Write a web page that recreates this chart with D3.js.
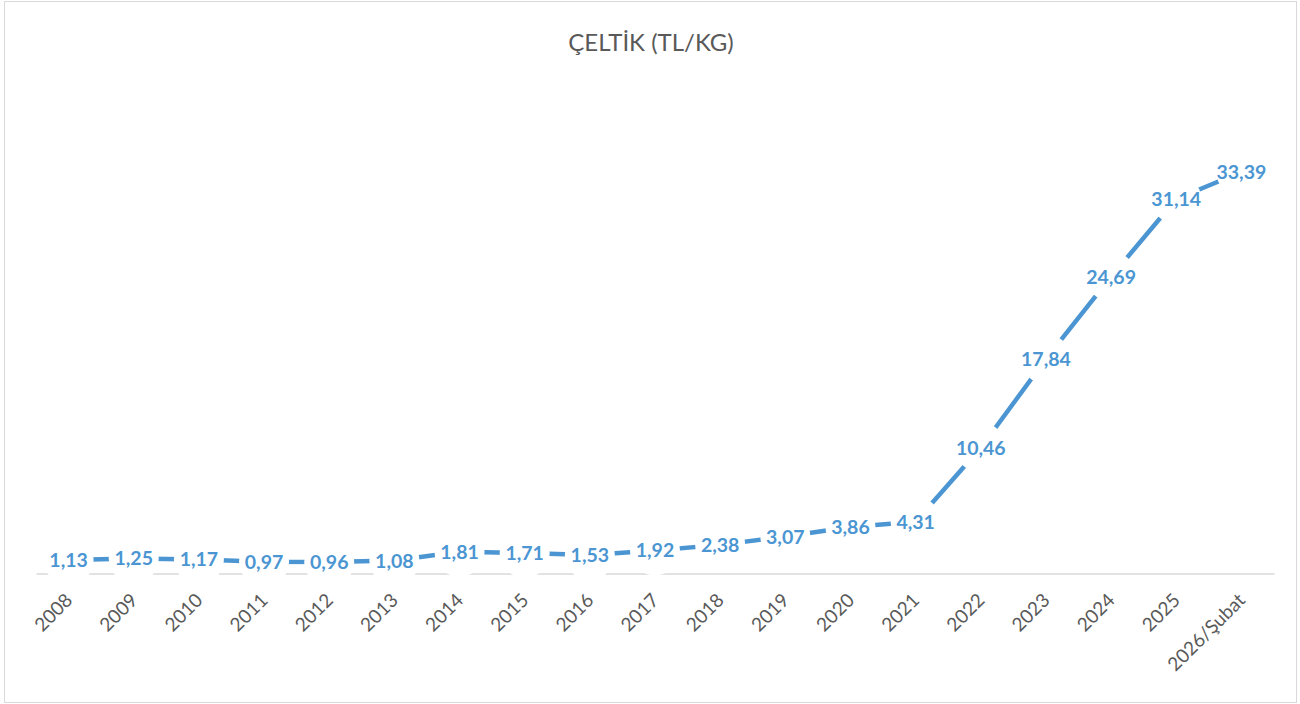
<!DOCTYPE html>
<html>
<head>
<meta charset="utf-8">
<script src="https://cdn.jsdelivr.net/npm/d3@7"></script>
<style>
  html, body { margin: 0; padding: 0; background: #fff; }
  svg { display: block; }
</style>
</head>
<body>
<svg id="chart" width="1300" height="704"></svg>
<script>
const categories = ["2008","2009","2010","2011","2012","2013","2014","2015","2016","2017","2018","2019","2020","2021","2022","2023","2024","2025","2026/Şubat"];
const values = [1.13,1.25,1.17,0.97,0.96,1.08,1.81,1.71,1.53,1.92,2.38,3.07,3.86,4.31,10.46,17.84,24.69,31.14,33.39];
const labels = ["1,13","1,25","1,17","0,97","0,96","1,08","1,81","1,71","1,53","1,92","2,38","3,07","3,86","4,31","10,46","17,84","24,69","31,14","33,39"];
const title = "ÇELTİK (TL/KG)";
const yDomain = [0, 40];

const svg = d3.select("#chart");
const font = "Lato, 'Open Sans', sans-serif";
const blue = "#4b96d2";

// chart border
svg.append("rect").attr("x", 4.5).attr("y", 1.5).attr("width", 1292).attr("height", 701)
  .attr("fill", "#fff").attr("stroke", "#d9d9d9").attr("stroke-width", 1);

const x = d3.scaleBand().domain(categories).range([36, 1274]).padding(0);
const y = d3.scaleLinear().domain(yDomain).range([573.5, 92.5]);

// title
svg.append("text").attr("x", 651).attr("y", 51).attr("text-anchor", "middle")
  .attr("font-family", font).attr("font-size", 24).attr("fill", "#595959").text(title);

// x axis
const xAxis = d3.axisBottom(x).tickSize(0).tickPadding(0);
const gx = svg.append("g").attr("transform", `translate(0,${y(0)})`).call(xAxis);
gx.select(".domain").attr("stroke", "#d9d9d9").attr("stroke-width", 1.5);
gx.selectAll(".tick text")
  .attr("font-family", font).attr("font-size", 19).attr("fill", "#595959")
  .attr("text-anchor", "end")
  .attr("dy", null).attr("y", 0)
  .attr("transform", "translate(5,28) rotate(-45)");

// line
const cx = d => x(d) + x.bandwidth() / 2;
const line = d3.line().x((d, i) => cx(categories[i])).y(d => y(d));
svg.append("path").datum(values).attr("d", line)
  .attr("fill", "none").attr("stroke", blue).attr("stroke-width", 4.5)
  .attr("stroke-linejoin", "round");

// white round markers (mask the line around each point)
svg.append("g").selectAll("circle").data(values).join("circle")
  .attr("cx", (d, i) => cx(categories[i])).attr("cy", d => y(d))
  .attr("r", 25).attr("fill", "#fff");

// data labels
svg.append("g").selectAll("text").data(values).join("text")
  .attr("x", (d, i) => cx(categories[i])).attr("y", d => y(d))
  .attr("text-anchor", "middle").attr("dy", "0.36em")
  .attr("font-family", font).attr("font-size", 19.5).attr("font-weight", 700)
  .attr("fill", blue).text((d, i) => labels[i]);
</script>
</body>
</html>
